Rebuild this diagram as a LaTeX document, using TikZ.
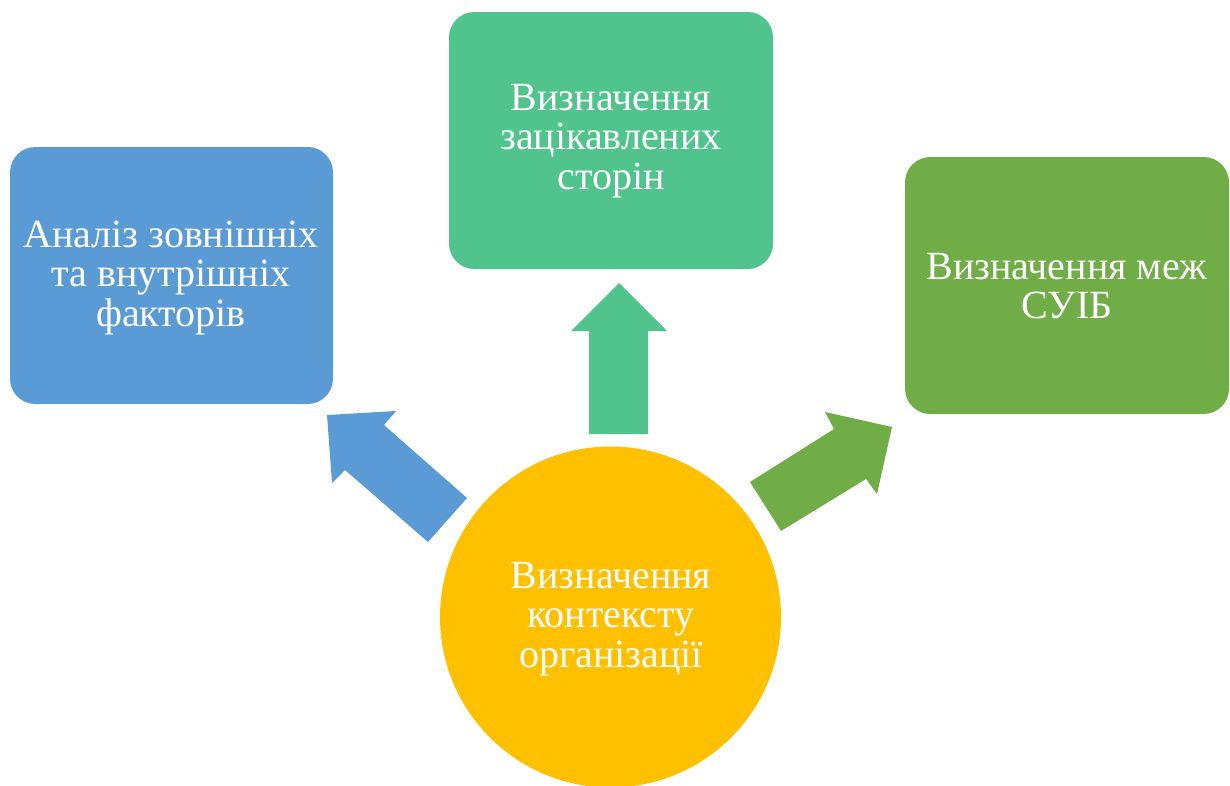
\documentclass[tikz,border=0pt]{standalone}
\usepackage{fontspec}
\setmainfont{Liberation Serif}
\definecolor{cblue}{HTML}{5B9BD5}
\definecolor{cteal}{HTML}{50C48C}
\definecolor{cgreen}{HTML}{70AD47}
\definecolor{cyellow}{HTML}{FFC000}
\tikzset{
  box/.style={rounded corners=19pt, inner sep=0pt},
  lbl/.style={text=white, align=center, inner sep=0pt, font=\fontsize{30}{29.5}\selectfont},
}
\begin{document}
\begin{tikzpicture}[x=0.75pt,y=-0.75pt]
\useasboundingbox (0,0) rectangle (1230,785);
% boxes
\fill[cblue, box] (10,147) rectangle (333,404);
\fill[cteal, box] (449,12) rectangle (773,269);
\fill[cgreen, box] (905,157) rectangle (1229,414);
% circle
\fill[cyellow] (610.5,617) circle[radius=170.5*0.75pt];
% arrows
\fill[cblue] (327,415) -- (396,411) -- (384,425) -- (467,498) -- (428,542) -- (345,470) -- (332,483) -- cycle;
\fill[cteal] (619,283) -- (667,331) -- (648,331) -- (648,434) -- (589,434) -- (589,331) -- (571,331) -- cycle;
\fill[cgreen] (892,427) -- (877,494) -- (866,479) -- (781,531) -- (750,482) -- (834,429) -- (825,412) -- cycle;
% labels
\node[lbl] (a) at (171,278) {Аналіз зовнішніх\\та внутрішніх\\факторів};
\node[lbl] (b) at (611,141) {Визначення\\зацікавлених\\сторін};
\node[lbl] (c) at (1067,286) {Визначення меж\\СУІБ};
\node[lbl] (d) at (611,619) {Визначення\\контексту\\організації};
\end{tikzpicture}
\end{document}
